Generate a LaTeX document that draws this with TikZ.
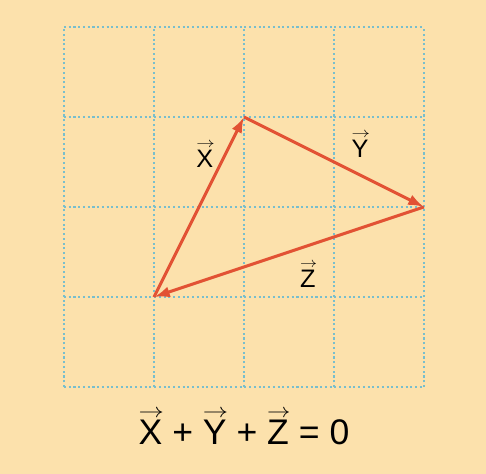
\documentclass[tikz,border=0pt]{standalone}
\usepackage{graphicx}
\usepackage{fontspec}
\setmainfont{Liberation Sans}
\usetikzlibrary{arrows.meta,positioning}
\definecolor{bgpeach}{RGB}{252,225,172}
\definecolor{gridblue}{RGB}{120,190,205}
\definecolor{vecred}{RGB}{226,82,52}
% letter with a thin arrow above it
\newsavebox{\vcbox}
\newcommand{\vc}[1]{\sbox{\vcbox}{#1}\leavevmode\rlap{\raisebox{\dimexpr\ht\vcbox+1.8pt\relax}{\resizebox{\dimexpr\wd\vcbox+1pt\relax}{0.3\ht\vcbox}{$\rightarrow$}}}\usebox{\vcbox}}

\begin{document}
\begin{tikzpicture}[font=\fontsize{16}{19}\selectfont,>={Latex[length=10pt,width=7pt]},
 vecline/.style={->,draw=vecred,fill=vecred,line width=1.9pt},
 gridline/.style={draw=gridblue,line width=1.2pt,dash pattern=on 1.3pt off 1.7pt}]
 \useasboundingbox[fill=bgpeach] (-1.422,-1.933) rectangle (9.378,8.6);
 \draw[gridline,step=2] (0,0) grid (8,8);
 \coordinate (a) at (2,2);
 \coordinate (b) at (4,6);
 \coordinate (c) at (8,4);
 \draw[vecline] (a) -- (b);
 \draw[vecline] (b) -- (c);
 \draw[vecline] (c) -- (a);
 \node (lblx) at (3.13,5.16) {\vc{X}};
 \node (lbly) at (6.58,5.38) {\vc{Y}};
 \node (lblz) at (5.42,2.49) {\vc{Z}};
 \node[font=\fontsize{22.5}{27}\selectfont] (eq) at (4.0,-0.9)
 {\vc{X} + \vc{Y} + \vc{Z} = 0};
\end{tikzpicture}
\end{document}
